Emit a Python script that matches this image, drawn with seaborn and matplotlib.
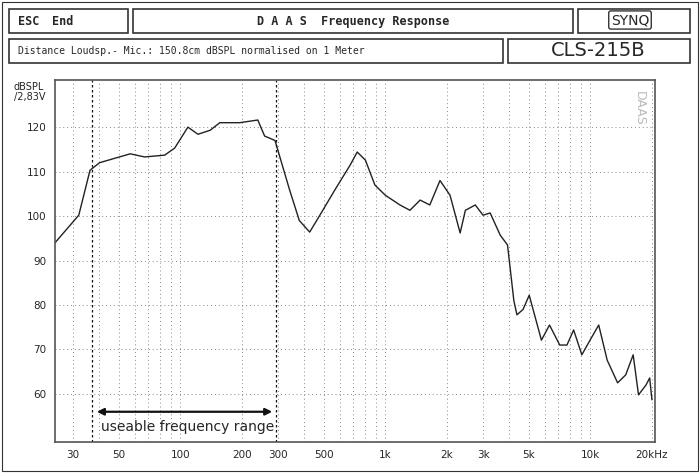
import numpy as np
import matplotlib
matplotlib.use("Agg")
import matplotlib.pyplot as plt
import seaborn as sns
from matplotlib.patches import Rectangle

sns.set_style("white")
plt.rcParams['font.family'] = ['DejaVu Sans']

freq = [24.5, 32, 36.3, 40.4, 57, 67, 84, 94, 109, 122, 140, 156, 195, 239, 258, 290,
        341, 381, 428, 480, 570, 675, 730, 800, 890, 1000, 1180, 1320, 1480, 1650, 1850,
        2070, 2320, 2460, 2750, 3000, 3250, 3640, 3950, 4240, 4390, 4700, 5040, 5780,
        6330, 7100, 7700, 8300, 9100, 9980, 11000, 12100, 13600, 14900, 16200, 17200,
        18700, 19500, 20000]
spl = [94, 100.2, 110.3, 112, 114, 113.3, 113.7, 115.3, 120, 118.4, 119.3, 121, 121,
       121.6, 118, 117, 106, 99, 96.4, 100.2, 106, 111.5, 114.4, 112.6, 107, 104.7,
       102.5, 101.3, 103.6, 102.5, 108, 104.7, 96.2, 101.3, 102.5, 100.2, 100.7, 95.7,
       93.5, 81, 77.8, 79, 82.2, 72.1, 75.5, 71, 71, 74.4, 68.8, 72.1, 75.5, 67.6, 62.5,
       64.3, 68.8, 59.8, 62, 63.6, 58.7]
tick_vals = [30, 50, 100, 200, 300, 500, 1000, 2000, 3000, 5000, 10000, 20000]
tick_labels = ["30", "50", "100", "200", "300", "500", "1k", "2k", "3k", "5k", "10k", "20kHz"]
y_ticks = [60, 70, 80, 90, 100, 110, 120]

W, H = 700, 473
fig = plt.figure(figsize=(7, 4.73), dpi=100)
fig.patch.set_facecolor("white")

def box(x0, y0, x1, y1, lw=1.2):
    fig.patches.append(Rectangle((x0 / W, 1 - y1 / H), (x1 - x0) / W, (y1 - y0) / H,
                                 transform=fig.transFigure, fill=False, ec="#333", lw=lw))

box(2, 2, 698, 471, 0.8)
box(9, 9, 128, 33); box(133, 9, 573, 33); box(578, 9, 690, 33)
box(9, 39, 503, 63); box(508, 39, 690, 63)
mono = "DejaVu Sans Mono"
fig.text(18 / W, 1 - 21 / H, "ESC", family=mono, fontsize=8.5, weight="bold", va="center")
fig.text(52 / W, 1 - 21 / H, "End", family=mono, fontsize=8.5, weight="bold", va="center")
fig.text(353 / W, 1 - 21 / H, "D A A S  Frequency Response", family=mono, fontsize=8.5,
         weight="bold", va="center", ha="center")
fig.text(630 / W, 1 - 20 / H, "SYNQ", fontsize=10, va="center", ha="center",
         bbox=dict(boxstyle="round,pad=0.15", fc="white", ec="#333", lw=1))
fig.text(18 / W, 1 - 51 / H, "Distance Loudsp.- Mic.: 150.8cm dBSPL normalised on 1 Meter",
         family=mono, fontsize=7, va="center")
fig.text(598 / W, 1 - 51 / H, "CLS-215B", fontsize=14, va="center", ha="center")
fig.text(14 / W, 1 - 92 / H, "dBSPL\n/2,83V", fontsize=7, va="center", linespacing=1.1)

ax = fig.add_axes([55 / W, 1 - 442 / H, 600 / W, 362 / H])
sns.lineplot(x=freq, y=spl, ax=ax, color="#222", lw=1.0)
ax.set_xscale("log")
ax.set_xlim(24.5, 20700)
ax.set_ylim(49.2, 130.6)
grid_f = [30, 40, 50, 60, 70, 80, 90, 100, 200, 300, 400, 500, 600, 700, 800, 900,
          1000, 2000, 3000, 4000, 5000, 6000, 7000, 8000, 9000, 10000, 20000]
for g in grid_f:
    ax.axvline(g, color="#888", lw=0.7, ls=(0, (1, 3)), zorder=0)
for g in y_ticks:
    ax.axhline(g, color="#888", lw=0.7, ls=(0, (1, 3)), zorder=0)
ax.axvline(37, color="#111", lw=0.9, ls=(0, (2, 2)))
ax.axvline(293, color="#111", lw=0.9, ls=(0, (2, 2)))
ax.annotate("", xy=(38, 56), xytext=(290, 56),
            arrowprops=dict(arrowstyle="<|-|>", color="#111", lw=1.6, mutation_scale=10))
ax.text(41, 52.5, "useable frequency range", fontsize=10, va="center")
ax.set_xticks(tick_vals)
ax.set_xticklabels(tick_labels, fontsize=7.5)
ax.xaxis.set_minor_locator(matplotlib.ticker.NullLocator())
ax.set_yticks(y_ticks)
ax.set_yticklabels([str(v) for v in y_ticks], fontsize=7.5)
ax.tick_params(length=0, pad=6)
for s in ax.spines.values():
    s.set_color("#555"); s.set_linewidth(1.2)
ax.text(0.985, 0.97, "DAAS", rotation=270, transform=ax.transAxes, fontsize=9,
        color="#bbb", va="top", ha="right")
fig.savefig("out.png", dpi=100)
